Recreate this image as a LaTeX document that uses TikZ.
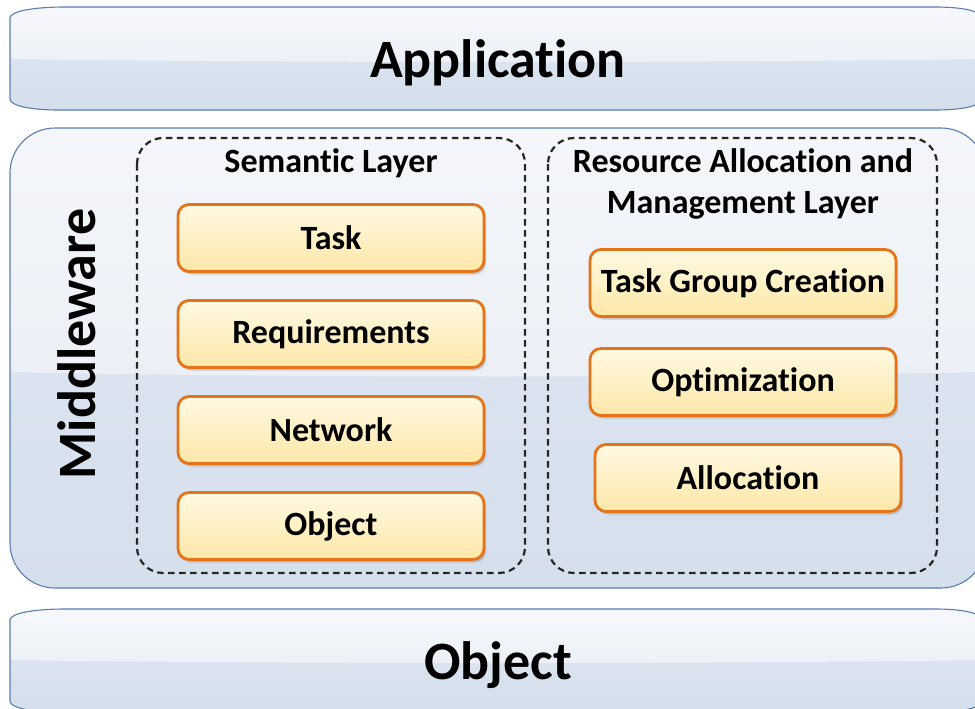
\documentclass[tikz,border=0pt]{standalone}
\usepackage{fontspec}
\setmainfont{Carlito}[Ligatures=NoCommon]
\usetikzlibrary{shadows}

\definecolor{barline}{HTML}{5B7DB0}
\definecolor{barTop}{HTML}{F6F8FC}
\definecolor{barHiBot}{HTML}{EDF1F7}
\definecolor{barMid}{HTML}{E1E8F2}
\definecolor{barBot}{HTML}{D4DFEC}
\definecolor{mwTop}{HTML}{F4F6FA}
\definecolor{mwHiBot}{HTML}{ECF0F6}
\definecolor{mwMid}{HTML}{E0E7F1}
\definecolor{mwBot}{HTML}{D5E0ED}
\definecolor{boxline}{HTML}{E5731A}
\definecolor{boxTop}{HTML}{FFF9E2}
\definecolor{boxMid}{HTML}{FEF1C6}
\definecolor{boxBot}{HTML}{FDE7A6}
\definecolor{dashcol}{HTML}{262626}

% outline of a horizontal glass bar between the heights #1 (top) and #2 (bottom)
\newcommand\glassbarpath[2]{%
  (10,#1+11) .. controls (10,#1+4) and (35,#1) .. (65,#1)
  -- (935,#1) .. controls (958,#1) and (980,#1+3) .. (980,#1+10)
  -- (980,#2-10) .. controls (980,#2-3) and (958,#2) .. (935,#2)
  -- (58,#2) .. controls (32,#2) and (10,#2-4) .. (10,#2-11) -- cycle}

% a complete glass bar: gradient body, upper highlight, outline
\newcommand\glassbar[3]{%
  \shade[top color=barMid, bottom color=barBot] \glassbarpath{#1}{#2};
  \begin{scope}
    \clip \glassbarpath{#1}{#2};
    \shade[top color=barTop, bottom color=barHiBot]
      (0,#1) -- (990,#1) -- (990,#3-3) .. controls (700,#3+1) and (300,#3+1) .. (0,#3-3) -- cycle;
  \end{scope}
  \draw[barline, line width=1.1pt] \glassbarpath{#1}{#2};}

\tikzset{
  bigtext/.style={font=\fontsize{54}{62}\selectfont\bfseries, text=black},
  layertitle/.style={font=\fontsize{34}{41}\selectfont\bfseries, text=black, align=center},
  layerbox/.style={draw=dashcol, line width=2.2pt, dash pattern=on 6.5pt off 4.5pt,
    rounded corners=26pt},
  stepbox/.style={draw=boxline, line width=2.8pt, rounded corners=11pt,
    minimum width=306pt, minimum height=67pt, inner sep=0pt,
    top color=boxTop, bottom color=boxBot, middle color=boxMid,
    font=\fontsize{34}{40}\selectfont\bfseries, text=black,
    drop shadow={shadow xshift=2pt, shadow yshift=-3pt, opacity=0.28, fill=black!60}},
}

\begin{document}
\begin{tikzpicture}[x=1pt,y=-1pt]
\useasboundingbox (0,0) rectangle (975,709);
\fill[white] (0,0) rectangle (975,709);

% application bar
\glassbar{7}{110}{62}
\node[bigtext] (app) at (498,63) {Application};

% object bar
\glassbar{609}{712}{663}
\node[bigtext] (obj) at (498,665) {Object};

% middleware panel
\shade[top color=mwMid, bottom color=mwBot, rounded corners=45pt]
  (10,128) rectangle (986,588);
\begin{scope}
  \clip[rounded corners=45pt] (10,128) rectangle (986,588);
  \shade[top color=mwTop, bottom color=mwHiBot]
    (0,128) -- (990,128) -- (990,372) .. controls (700,378) and (300,378) .. (0,372) -- cycle;
\end{scope}
\draw[barline, line width=1.1pt, rounded corners=45pt] (10,128) rectangle (986,588);
\node[bigtext, rotate=90] (mw) at (77,344) {Middleware};

% semantic layer
\draw[layerbox] (137,138) rectangle (525,573);
\node[layertitle] (semt) at (331,163) {Semantic Layer};
\node[stepbox] (task) at (331,238) {Task};
\node[stepbox] (req)  at (331,334) {Requirements};
\node[stepbox] (net)  at (331,430) {Network};
\node[stepbox] (sobj) at (331,526) {Object};

% resource allocation and management layer
\draw[layerbox] (548,138) rectangle (937,573);
\node[layertitle] (rest) at (743,184) {Resource Allocation and\\Management Layer};
\node[stepbox] (tgc)  at (743,283) {Task Group Creation};
\node[stepbox] (opt)  at (743,382) {Optimization};
\node[stepbox] (alloc) at (748,478) {Allocation};
\end{tikzpicture}
\end{document}
